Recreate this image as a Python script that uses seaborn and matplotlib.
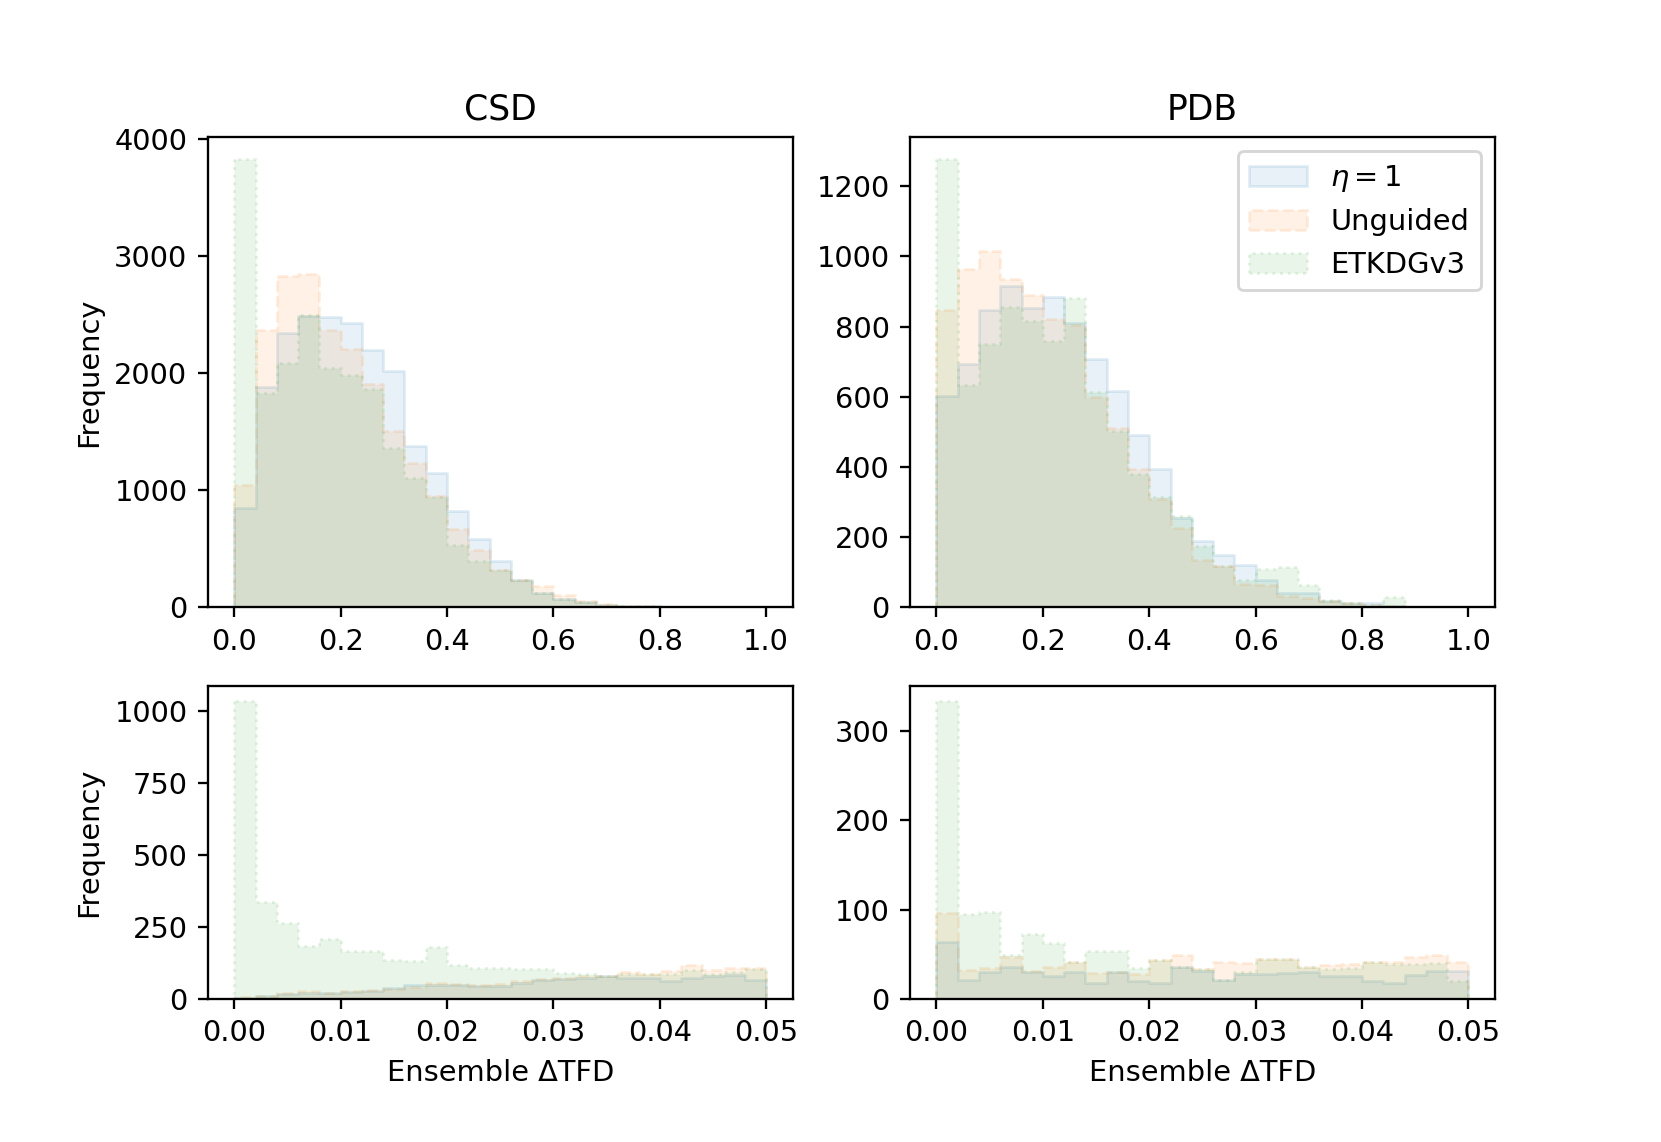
import numpy as np
import matplotlib
matplotlib.use("Agg")
import matplotlib.pyplot as plt
import seaborn as sns
from matplotlib.colors import to_rgba

# Histogram counts (25 bins per panel)
labels = [r"$\eta = 1$", "Unguided", "ETKDGv3"]

# full range: 0 - 1
csd_eta1 = [851, 1880, 2349, 2490, 2486, 2429, 2200, 2023, 1380, 1151, 823, 580, 394,
            237, 123, 71, 48, 22, 14, 9, 6, 4, 3, 2, 1]
csd_unguided = [1043, 2371, 2829, 2846, 2371, 2209, 1909, 1509, 1237, 950, 666, 486, 323,
                237, 180, 109, 52, 28, 15, 10, 6, 4, 3, 2, 1]
csd_etkdg = [3829, 1830, 2086, 2500, 2046, 1989, 1866, 1360, 1109, 940, 529, 400, 323,
             237, 123, 71, 45, 20, 14, 9, 5, 3, 2, 1, 1]

pdb_eta1 = [603, 693, 846, 915, 853, 884, 810, 708, 617, 490, 395, 255, 190,
            148, 122, 79, 41, 41, 17, 12, 12, 3, 0, 0, 0]
pdb_unguided = [846, 965, 1015, 936, 891, 822, 805, 598, 512, 393, 308, 227, 136,
                117, 67, 65, 31, 27, 17, 12, 8, 3, 0, 0, 0]
pdb_etkdg = [1276, 634, 749, 855, 815, 758, 882, 612, 503, 381, 315, 260, 174,
             117, 79, 108, 114, 63, 20, 12, 8, 29, 0, 0, 0]

# zoomed range: 0 - 0.05
csd_eta1_zoom = [3, 10, 17, 23, 21, 24, 27, 38, 49, 50, 50, 46, 46,
                 55, 66, 70, 72, 81, 75, 75, 64, 75, 81, 85, 66]
csd_unguided_zoom = [8, 12, 21, 29, 23, 27, 31, 37, 43, 58, 52, 48, 52,
                     62, 70, 75, 80, 81, 93, 89, 99, 119, 101, 110, 108]
csd_etkdg_zoom = [1036, 336, 264, 184, 208, 167, 167, 136, 133, 180, 119, 110, 110,
                  105, 106, 92, 86, 81, 87, 89, 89, 101, 87, 93, 104]

pdb_eta1_zoom = [64, 22, 30, 36, 30, 26, 30, 18, 30, 20, 18, 36, 32,
                 22, 28, 28, 29, 31, 26, 26, 20, 18, 27, 32, 32]
pdb_unguided_zoom = [96, 33, 35, 47, 32, 36, 42, 29, 30, 28, 44, 50, 34,
                     42, 41, 45, 45, 36, 38, 39, 42, 42, 47, 49, 42]
pdb_etkdg_zoom = [334, 95, 98, 49, 73, 63, 42, 54, 54, 35, 44, 36, 34,
                  22, 31, 45, 45, 36, 34, 35, 42, 39, 39, 40, 20]

n_bins = 25
colors = ["C0", "C1", "C2"]
styles = ["-", "--", ":"]


def draw_panel(ax, series, hi):
    width = hi / n_bins
    centers = np.arange(n_bins) * width + width / 2
    for counts, lab, c, ls in zip(series, labels, colors, styles):
        sns.histplot(x=centers, weights=counts, bins=n_bins, binrange=(0, hi),
                     element="step", fill=True, alpha=0.1, color=c,
                     edgecolor=to_rgba(c, 0.12), linestyle=ls, linewidth=1,
                     label=lab, ax=ax)


fig, axes = plt.subplots(2, 2, figsize=(8, 5.5), gridspec_kw={"height_ratios": [3, 2]})
fig.subplots_adjust(bottom=0.125)

draw_panel(axes[0, 0], [csd_eta1, csd_unguided, csd_etkdg], 1.0)
draw_panel(axes[0, 1], [pdb_eta1, pdb_unguided, pdb_etkdg], 1.0)
draw_panel(axes[1, 0], [csd_eta1_zoom, csd_unguided_zoom, csd_etkdg_zoom], 0.05)
draw_panel(axes[1, 1], [pdb_eta1_zoom, pdb_unguided_zoom, pdb_etkdg_zoom], 0.05)

axes[0, 0].set_title("CSD")
axes[0, 1].set_title("PDB")
for ax in axes[:, 0]:
    ax.set_ylabel("Frequency")
for ax in axes[:, 1]:
    ax.set_ylabel("")
for ax in axes[0]:
    ax.set_xlabel("")
for ax in axes[1]:
    ax.set_xlabel("Ensemble ΔTFD")

axes[0, 1].legend(loc="upper right")

plt.savefig("out.png", dpi=207.64)
